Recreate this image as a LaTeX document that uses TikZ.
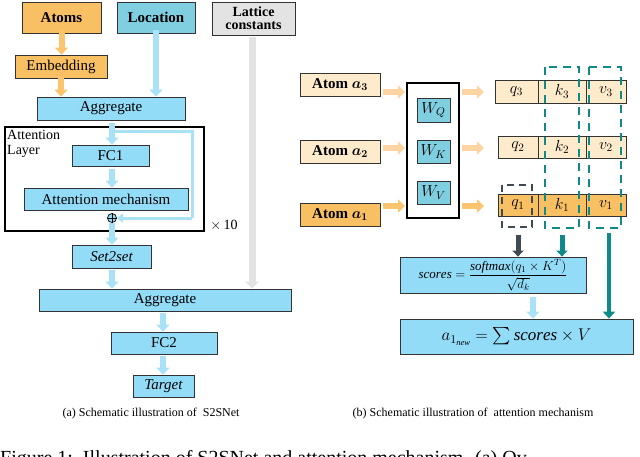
\documentclass[tikz,border=0pt]{standalone}
\usepackage{fix-cm}
\usepackage{amsmath}
\usepackage{fontspec}
\setmainfont{Liberation Serif}
\usetikzlibrary{arrows.meta}
\definecolor{org}{HTML}{F8C063}
\definecolor{lorg}{HTML}{FDEBCB}
\definecolor{blu}{HTML}{92DCF8}
\definecolor{bluA}{HTML}{A9E2F7}
\definecolor{loc}{HTML}{7FCFE0}
\definecolor{gry}{HTML}{E3E3E3}
\definecolor{teal}{HTML}{0E8A8A}
\definecolor{dgr}{HTML}{3F4A52}
\definecolor{orgA}{HTML}{FBC46E}
\tikzset{
 box/.style={draw=black!80,line width=0.8pt,inner sep=0pt,font=\fontsize{15}{16}\selectfont},
 mbox/.style={box,font=\fontsize{16}{17}\selectfont},
 barr/.style={line width=6pt,-{Triangle[width=13pt,length=7pt]}},
 every node/.style={inner sep=0pt}
}
\begin{document}
\begin{tikzpicture}[x=1pt,y=-1pt]
\useasboundingbox (0,0) rectangle (640,456);
\coordinate (c112) at (112,0);
\coordinate (c163) at (163,0);
\coordinate (c252) at (252,37);
% left column
\node[box,fill=org,minimum width=79,minimum height=31,font=\bfseries\fontsize{15}{16}\selectfont] (atoms) at (61.5,17.5) {Atoms};
\node[box,fill=loc,minimum width=78,minimum height=31,font=\bfseries\fontsize{15}{16}\selectfont] (loc) at (156,17.5) {Location};
\node[box,fill=gry,minimum width=83,minimum height=33,align=center,font=\bfseries\fontsize{14}{13}\selectfont] (lat) at (253.5,18.5) {Lattice\\constants};
\node[box,fill=org,minimum width=92,minimum height=23] (emb) at (61,66.5) {Embedding};
\node[box,fill=blu,minimum width=148,minimum height=23] (agg1) at (111,108.5) {Aggregate};
\draw[line width=1.8pt] (5,127) rectangle (204,231);
\node[anchor=north west,align=left,font=\fontsize{14}{15}\selectfont] (al) at (7,130) {Attention\\Layer};
\node[box,fill=blu,minimum width=77,minimum height=21] (fc1) at (110.5,155.5) {FC1};
\node[box,fill=blu,minimum width=164,minimum height=22] (am) at (106,199) {Attention mechanism};
\node[draw=black,circle,minimum size=9,fill=blu,line width=0.7pt] (plus) at (112,218) {};
\draw[line width=0.6pt] (plus.north)--(plus.south) (plus.west)--(plus.east);
\node[font=\fontsize{14}{15}\selectfont] (x10) at (224,225) {$\times\,$10};
\node[box,fill=blu,minimum width=79,minimum height=23,font=\itshape\fontsize{15}{16}\selectfont] (s2s) at (111.5,256.5) {Set2set};
\node[box,fill=blu,minimum width=252,minimum height=22] (agg2) at (165,300) {Aggregate};
\node[box,fill=blu,minimum width=106,minimum height=22] (fc2) at (164,343) {FC2};
\node[box,fill=blu,minimum width=61,minimum height=22,font=\itshape\fontsize{15}{16}\selectfont] (tgt) at (163.5,386) {Target};
\draw[barr,orgA] ([yshift=3pt]atoms.south) -- (atoms.south |- emb.north);
\draw[barr,orgA] ([yshift=2pt]emb.south) -- (emb.south |- agg1.north);
\draw[barr,bluA] ([yshift=3pt]loc.south) -- (loc.south |- agg1.north);
\draw[barr,gry,line width=7pt] (c252) -- (c252 |- agg2.north);
\draw[barr,bluA] (112,123) -- (c112 |- fc1.north);
\draw[line width=3pt,bluA] (112,131) -- (192,131) -- (192,218);
\draw[bluA,line width=3pt,-{Triangle[width=9pt,length=6pt]}] (192,218) -- (plus.east);
\draw[barr,bluA] (112,169) -- (c112 |- am.north);
\draw[barr,bluA] (plus.south) -- (c112 |- s2s.north);
\draw[barr,bluA] (112,270) -- (c112 |- agg2.north);
\draw[barr,bluA] (163,313) -- (c163 |- fc2.north);
\draw[barr,bluA] (163,356) -- (c163 |- tgt.north);
\node[font=\fontsize{12}{13}\selectfont] (capa) at (151,414) {(a) Schematic illustration of\ \ S2SNet};
% right
\node[box,fill=lorg,minimum width=80,minimum height=23,font=\bfseries\fontsize{15}{16}\selectfont] (a3) at (340,84.5) {Atom $\boldsymbol{a_3}$};
\node[box,fill=lorg,minimum width=80,minimum height=23,font=\bfseries\fontsize{15}{16}\selectfont] (a2) at (340,151.5) {Atom $\boldsymbol{a_2}$};
\node[box,fill=org,minimum width=80,minimum height=23,font=\bfseries\fontsize{15}{16}\selectfont] (a1) at (340,214.5) {Atom $\boldsymbol{a_1}$};
\node[draw=black,line width=1.8pt,minimum width=52,minimum height=135] (W) at (433,150.5) {};
\node[mbox,fill=loc,minimum width=33,minimum height=24] (wq) at (433.5,110) {$W_Q$};
\node[mbox,fill=loc,minimum width=33,minimum height=23] (wk) at (433.5,151.5) {$W_K$};
\node[mbox,fill=loc,minimum width=33,minimum height=23] (wv) at (433.5,192.5) {$W_V$};
\draw[barr,lorg!80!orange] (383,92) -- (405,92);
\draw[barr,lorg!80!orange] (383,148) -- (405,148);
\draw[barr,orgA] (383,206) -- (405,206);
\draw[barr,lorg!80!orange] (462,92) -- (484,92);
\draw[barr,lorg!80!orange] (462,148) -- (484,148);
\draw[barr,orgA] (462,206) -- (484,206);
\node[mbox,fill=lorg,minimum width=43,minimum height=23] (q3) at (516.5,91.5) {$q_3$};
\node[mbox,fill=lorg,minimum width=48,minimum height=23] (k3) at (562,91.5) {$k_3$};
\node[mbox,fill=lorg,minimum width=40,minimum height=23] (v3) at (606,91.5) {$v_3$};
\node[mbox,fill=lorg,minimum width=40,minimum height=22] (q2) at (518,147) {$q_2$};
\node[mbox,fill=lorg,minimum width=48,minimum height=22] (k2) at (562,147) {$k_2$};
\node[mbox,fill=lorg,minimum width=40,minimum height=22] (v2) at (606,147) {$v_2$};
\node[mbox,fill=org,minimum width=40,minimum height=22] (q1) at (518,205) {$q_1$};
\node[mbox,fill=org,minimum width=48,minimum height=22] (k1) at (562,205) {$k_1$};
\node[mbox,fill=org,minimum width=40,minimum height=22] (v1) at (606,205) {$v_1$};
\draw[dgr,line width=2pt,dash pattern=on 7pt off 5pt] (502,185) rectangle (532,227);
\draw[teal,line width=2pt,dash pattern=on 8pt off 6pt] (545,67) rectangle (579,228);
\draw[teal,line width=2pt,dash pattern=on 8pt off 6pt] (589,67) rectangle (621,228);
\node[box,fill=blu,minimum width=186,minimum height=36,font=\fontsize{13}{14}\selectfont] (sc) at (493,275) {$\mathit{scores}=\dfrac{\mathit{softmax}(q_1\times K^T)}{\sqrt{d_k}}$};
\node[box,fill=blu,minimum width=233,minimum height=35,font=\fontsize{17}{18}\selectfont] (an) at (516.5,336.5) {$a_{1_{\mathit{new}}}=\sum \mathit{scores}\times V$};
\coordinate (c518) at (518,235);
\coordinate (c562) at (562,235);
\coordinate (c609) at (609,233);
\coordinate (c533) at (533,297);
\draw[dgr,line width=5pt,-{Triangle[width=11pt,length=6pt]}] (c518) -- (c518 |- sc.north);
\draw[teal,line width=5pt,-{Triangle[width=11pt,length=6pt]}] (c562) -- (c562 |- sc.north);
\draw[teal,line width=4pt,-{Triangle[width=12pt,length=7pt]}] (c609) -- (c609 |- an.north);
\draw[barr,bluA] (c533) -- (c533 |- an.north);
\node[font=\fontsize{12}{13}\selectfont] (capb) at (473,414) {(b) Schematic illustration of\ \ attention mechanism};
\node[anchor=north west,font=\fontsize{20}{21}\selectfont] (fig) at (0,450) {Figure 1:\ \ Illustration of S2SNet and attention mechanism. (a) Ov};
\end{tikzpicture}
\end{document}
